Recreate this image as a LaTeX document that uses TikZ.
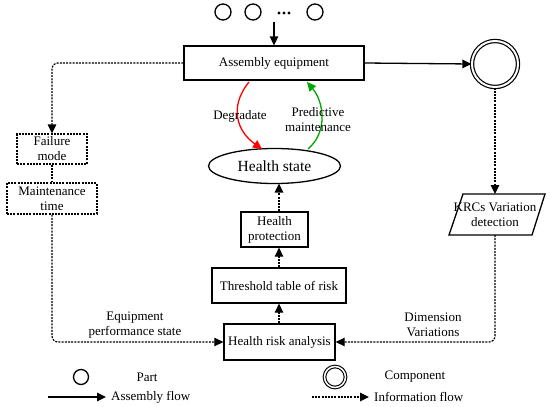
\documentclass[tikz,border=0pt]{standalone}
\usepackage{fontspec}
\setmainfont{Liberation Serif}
\usetikzlibrary{arrows.meta,shapes.geometric,calc}
\begin{document}
\begin{tikzpicture}[x=1pt,y=-1pt,
  font=\fontsize{13}{15}\selectfont,
  box/.style={draw,line width=1.3pt,rectangle,inner sep=1pt,align=center},
  dbox/.style={draw,line width=1.2pt,dash pattern=on 2pt off 1.2pt,rectangle,inner sep=1pt,align=center},
  info/.style={line width=1.2pt,dash pattern=on 2pt off 1.2pt},
  flow/.style={line width=1.3pt},
  tip/.style={-{Triangle[length=9pt,width=8.5pt]}},
  lbl/.style={align=center,inner sep=0pt}]
\useasboundingbox (0,0) rectangle (550,407);
% parts at top
\foreach \i/\xx in {p1/223,p2/253,p3/315}{\node[draw,circle,line width=1.3pt,minimum size=16pt,inner sep=0pt] (\i) at (\xx,12) {};}
\foreach \xx in {279,284,289}{\fill (\xx,13) circle (1.6pt);}
\coordinate (in) at (274,22);
% main boxes
\node[box,minimum width=180pt,minimum height=34pt] (ae) at (274,63) {Assembly equipment};
\node[draw,ellipse,line width=1.3pt,minimum width=132pt,minimum height=35pt,inner sep=0pt,font=\fontsize{15.5}{17}\selectfont] (hs) at (274.5,166) {Health state};
\node[box,minimum width=67pt,minimum height=35pt] (hp) at (274.5,229.5) {Health\\protection};
\node[box,minimum width=134pt,minimum height=35pt] (tt) at (279,285.5) {Threshold table of risk};
\node[box,minimum width=111pt,minimum height=36pt] (hra) at (279.5,342) {Health risk analysis};
\node[dbox,minimum width=70pt,minimum height=30pt] (fm) at (52,149) {Failure\\mode};
\node[dbox,minimum width=90pt,minimum height=31pt] (mt) at (52,198.5) {Maintenance\\time};
% component
\node[draw,circle,double,double distance=2pt,line width=1.2pt,minimum size=46pt,inner sep=0pt] (comp) at (495,64) {};
% KRC parallelogram
\node[lbl,minimum width=96pt,minimum height=41pt] (krc) at (495,214.5) {KRCs Variation\\detection};
\draw[line width=1.3pt] (463,194) -- (545,194) -- (532,235) -- (449,235) -- cycle;
% connectors
\draw[flow,tip] (in) -- (ae.north);
\draw[flow,tip] (ae.east) -- (comp.west);
\draw[info,tip,rounded corners=6pt] (ae.west) -| (fm.north);
\draw[info] (fm.south) -- (mt.north);
\draw[info,tip,rounded corners=6pt] (mt.south) |- (hra.west);
\draw[info,tip] (comp.south) -- (495,194);
\draw[info,tip,rounded corners=6pt] (495,235) |- (hra.east);
\draw[info,tip] (tt.north |- hra.north) -- (tt.south);
\draw[info,tip] (tt.north) -- (tt.north |- hp.south);
\draw[info,tip] (tt.north |- hp.north) -- (279,183.5);
% degrade / maintenance curves
\coordinate (r1) at (249,82);
\coordinate (r2) at (262,149);
\coordinate (g1) at (308,149);
\coordinate (g2) at (307,82);
\draw[flow,red,tip] (r1) .. controls (228,108) and (238,132) .. (r2);
\draw[flow,green!65!black,tip] (g1) .. controls (328,132) and (324,102) .. (g2);
\node[lbl] (ldeg) at (240,116) {Degradate};
\node[lbl] (lpm) at (318,120) {Predictive\\maintenance};
\node[lbl] (leq) at (135,325) {Equipment\\performance state};
\node[lbl] (ldim) at (433,325) {Dimension\\Variations};
% legend
\node[draw,circle,line width=1.3pt,minimum size=15pt,inner sep=0pt] (lp) at (81,377) {};
\node[lbl] (lpt) at (147,377) {Part};
\coordinate (la1) at (48,397);
\coordinate (la2) at (106,397);
\draw[flow,tip] (la1) -- (la2);
\node[lbl,anchor=west] (laf) at (111,397) {Assembly flow};
\node[draw,circle,double,double distance=1.5pt,line width=1.1pt,minimum size=21pt,inner sep=0pt] (lc) at (335,377) {};
\node[lbl] (lct) at (415,377) {Component};
\coordinate (li1) at (312,397);
\coordinate (li2) at (369,397);
\draw[info,tip] (li1) -- (li2);
\node[lbl,anchor=west] (lif) at (374,397) {Information flow};
\end{tikzpicture}
\end{document}
